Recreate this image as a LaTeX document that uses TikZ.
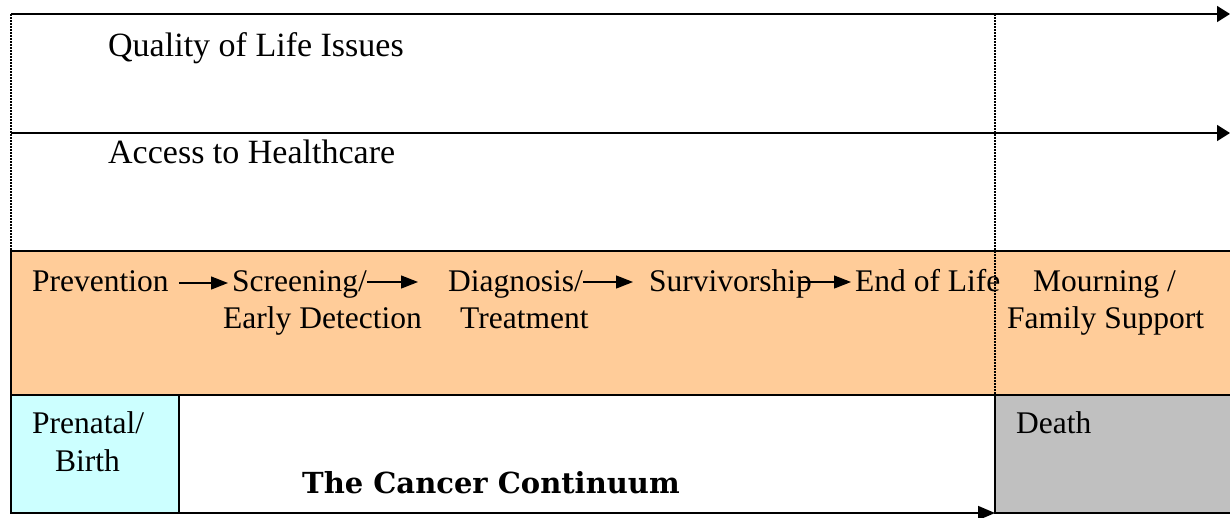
\documentclass[tikz,border=0pt]{standalone}
\usepackage{fontspec}
\setmainfont{Liberation Serif}
\newfontfamily\titlefont{DejaVu Serif}
\usetikzlibrary{arrows.meta}
\definecolor{bandorange}{HTML}{FFCC99}
\definecolor{birthcyan}{HTML}{CCFFFF}
\definecolor{deathgray}{HTML}{C0C0C0}
\tikzset{
  boxnode/.style={draw=black, line width=1.6pt, rectangle, inner sep=0pt, outer sep=0pt},
  lbl/.style={anchor=base west, inner sep=0pt, font=\fontsize{31.5}{34}\selectfont},
  toplbl/.style={anchor=base west, inner sep=0pt, font=\fontsize{34}{38}\selectfont},
  bigarrow/.style={line width=1.6pt, -{Triangle[length=13pt,width=16pt]}},
  stagearrow/.style={line width=1.3pt, -{Triangle[length=17pt,width=13pt]}},
  dotline/.style={line width=1.3pt, dash pattern=on 1.5pt off 1.5pt},
}
\begin{document}
\begin{tikzpicture}[x=1pt,y=-1pt]
\useasboundingbox (0,0) rectangle (1230,517);
% boxes
\node[boxnode, fill=bandorange, minimum width=1221pt, minimum height=144pt] (band) at (621.5,323) {};
\node[boxnode, fill=birthcyan, minimum width=168pt, minimum height=118pt] (birthbox) at (95,454) {};
\node[boxnode, fill=deathgray, minimum width=237pt, minimum height=118pt] (deathbox) at (1113.5,454) {};
% top arrows
\coordinate (t1l) at (11,14);
\coordinate (t1r) at (1230,14);
\coordinate (t2l) at (11,133);
\coordinate (t2r) at (1230,133);
\coordinate (dv) at (995,14);
\coordinate (dvb) at (995,395);
\draw[bigarrow] (t1l) -- (t1r);
\draw[bigarrow] (t2l) -- (t2r);
\draw[dotline] (t1l) -- (band.north west);
\draw[dotline] (dv) -- (dvb);
% labels
\node[toplbl] (qol) at (108,56) {Quality of Life Issues};
\node[toplbl] (access) at (108,163) {Access to Healthcare};
\node[lbl] (prev) at (32,291) {Prevention};
\node[lbl] (scr) at (232,291) {Screening/};
\node[lbl] (early) at (223,328) {Early Detection};
\node[lbl] (diag) at (448,291) {Diagnosis/};
\node[lbl] (treat) at (460,328) {Treatment};
\node[lbl] (surv) at (649,291) {Survivorship};
\node[lbl] (eol) at (855,291) {End of Life};
\node[lbl] (mourn) at (1033,291) {Mourning /};
\node[lbl] (family) at (1007,328) {Family Support};
\node[lbl] (prenatal) at (32,433) {Prenatal/};
\node[lbl] (birth) at (55,471) {Birth};
\node[lbl] (death) at (1016,433) {Death};
\node[anchor=base west, inner sep=0pt, font=\titlefont\bfseries\fontsize{29}{32}\selectfont] (title) at (302,493) {The Cancer Continuum};
% stage arrows
\draw[stagearrow] ([xshift=10pt,yshift=8pt]prev.base east) -- ([xshift=-4pt,yshift=8pt]scr.base west);
\draw[stagearrow] ([yshift=9pt]scr.base east) -- ([xshift=-30pt,yshift=9pt]diag.base west);
\draw[stagearrow] ([yshift=9pt]diag.base east) -- ([xshift=-16pt,yshift=9pt]surv.base west);
\draw[stagearrow] ([xshift=-13pt,yshift=9pt]surv.base east) -- ([xshift=-4pt,yshift=9pt]eol.base west);
% bottom arrow
\draw[line width=1.6pt, -{Triangle[length=17pt,width=14pt]}] (birthbox.south east) -- (deathbox.south west);
\end{tikzpicture}
\end{document}
